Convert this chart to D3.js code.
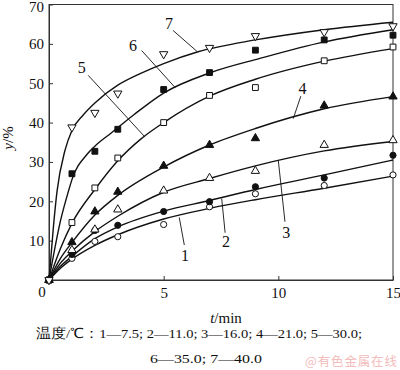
<!DOCTYPE html>
<html>
<head>
<meta charset="utf-8">
<script src="https://cdn.jsdelivr.net/npm/d3@7"></script>
<style>
  body { margin: 0; background: #fff; }
  text { font-family: "Liberation Serif", "Times New Roman", serif; }
</style>
</head>
<body>
<div id="chart"></div>
<script>
// measured points (t in min, y in %)
var times = [0, 1, 2, 3, 5, 7, 9, 12, 15];
var s1 = [0, 5.5, 9.8, 11.0, 14.1, 18.6, 21.9, 24.0, 26.7];
var s2 = [0, 6.5, 12.6, 13.9, 17.4, 19.9, 23.7, 25.9, 31.7];
var s3 = [0, 7.6, 12.8, 17.9, 22.7, 25.9, 27.7, 34.3, 35.5];
var s4 = [0, 9.6, 17.4, 22.4, 29.0, 34.3, 36.0, 44.3, 46.6];
var s5 = [0, 14.6, 23.4, 31.0, 40.0, 46.9, 48.9, 55.7, 59.2];
var s6 = [0, 27.0, 32.7, 38.3, 48.4, 52.7, 58.4, 61.0, 62.2];
var s7 = [0, 38.8, 42.5, 47.4, 57.4, 59.0, 62.0, 63.0, 64.5];

// fitted curves
var c1t = [0, 0.5, 1, 2, 3, 5, 7, 9, 12, 15];
var c1 = [0, 3.0, 5.3, 8.8, 11.5, 15.5, 18.2, 20.4, 23.3, 26.4];
var c2 = [0, 3.5, 6.0, 10.5, 13.5, 17.5, 20.2, 23.0, 26.7, 30.5];
var c3 = [0, 4.3, 7.3, 12.3, 16.2, 22.3, 25.8, 29.0, 32.8, 35.2];
var c4 = [0, 5.5, 9.5, 16.5, 21.5, 28.7, 34.3, 38.5, 43.5, 46.6];
var c5t = [0, 0.5, 1, 2, 3, 4, 5, 7, 9, 12, 15];
var c5 = [0, 8.0, 14.4, 23.0, 30.3, 35.8, 40.0, 46.7, 51.0, 55.6, 58.8];
var c6t = [0, 0.5, 0.87, 1, 1.67, 2, 2.7, 3.7, 5, 7, 9.2, 12, 15];
var c6 = [0, 15.0, 23.0, 25.5, 32.0, 34.0, 37.3, 42.0, 47.5, 52.6, 56.3, 60.5, 63.6];
var c7t = [0, 0.2, 0.35, 0.7, 1, 1.5, 2, 3, 4, 5, 6.5, 9, 12, 15];
var c7 = [0, 14.0, 22.5, 33.0, 38.0, 42.0, 45.0, 49.5, 52.5, 55.0, 58.0, 61.0, 63.6, 65.5];

var xTicks = [5, 10, 15];
var yTicks = [10, 20, 30, 40, 50, 60, 70];

// curve labels: text position and leader line ends (data units)
var curveLabels = [
  {name: "1", tx: 5.93, ty: 6.3, x1: 5.9, y1: 8.9, x2: 5.68, y2: 15.9},
  {name: "2", tx: 7.72, ty: 9.7, x1: 7.68, y1: 12.0, x2: 7.53, y2: 20.7},
  {name: "3", tx: 10.34, ty: 12.2, x1: 10.29, y1: 14.8, x2: 10.0, y2: 30.3},
  {name: "4", tx: 11.05, ty: 48.6, x1: 10.98, y1: 46.7, x2: 10.65, y2: 41.0},
  {name: "5", tx: 1.43, ty: 54.1, x1: 1.71, y1: 52.0, x2: 4.19, y2: 36.3},
  {name: "6", tx: 3.66, ty: 59.6, x1: 4.04, y1: 58.3, x2: 5.5, y2: 48.9},
  {name: "7", tx: 5.23, ty: 65.2, x1: 5.41, y1: 63.4, x2: 6.45, y2: 58.1}
];

var captionLine1 = "温度/℃：1—7.5; 2—11.0; 3—16.0; 4—21.0; 5—30.0;";
var captionLine2 = "6—35.0; 7—40.0";

var series = [
  {vals: s1, ct: c1t, cv: c1, shape: "circle", fill: false},
  {vals: s2, ct: c1t, cv: c2, shape: "circle", fill: true},
  {vals: s3, ct: c1t, cv: c3, shape: "tri", fill: false},
  {vals: s4, ct: c1t, cv: c4, shape: "tri", fill: true},
  {vals: s5, ct: c5t, cv: c5, shape: "square", fill: false},
  {vals: s6, ct: c6t, cv: c6, shape: "square", fill: true},
  {vals: s7, ct: c7t, cv: c7, shape: "trid", fill: false}
];

var width = 400, height = 370;
var svg = d3.select("#chart")
  .append("svg")
    .attr("width", width)
    .attr("height", height);

var x = d3.scaleLinear().domain([0, 15]).range([49, 393]);
var y = d3.scaleLinear().domain([0, 70]).range([280, 4.5]);

// frame
svg.append("rect")
  .attr("x", x(0)).attr("y", y(70))
  .attr("width", x(15) - x(0)).attr("height", y(0) - y(70))
  .attr("fill", "none").attr("stroke", "#333").attr("stroke-width", 1);

var xAxis = svg.append("g")
  .attr("transform", "translate(0," + y(0) + ")")
  .call(d3.axisBottom(x).tickValues(xTicks).tickSize(-4).tickPadding(7).tickSizeOuter(0));
var yAxis = svg.append("g")
  .attr("transform", "translate(" + x(0) + ",0)")
  .call(d3.axisLeft(y).tickValues(yTicks).tickSize(-4).tickPadding(5).tickSizeOuter(0));
[xAxis, yAxis].forEach(function(g) {
  g.select(".domain").attr("stroke", "#333");
  g.selectAll(".tick line").attr("stroke", "#333");
  g.selectAll("text").attr("font-size", 15).attr("fill", "#111");
});
// top label sits a bit lower so it stays inside the page
yAxis.selectAll(".tick text").filter(function(d) { return d === 70; }).attr("y", 2.5);

svg.append("text")
  .attr("x", 42).attr("y", 297)
  .attr("text-anchor", "middle").attr("font-size", 15).attr("fill", "#111")
  .text("0");

var line = d3.line()
  .x(function(d) { return x(d[0]) })
  .y(function(d) { return y(d[1]) })
  .curve(d3.curveMonotoneX);

series.forEach(function(s) {
  svg.append("path")
    .attr("d", line(s.ct.map(function(t, i) { return [t, s.cv[i]]; })))
    .attr("fill", "none").attr("stroke", "#111").attr("stroke-width", 1.4);
});

var sym = {
  circle: d3.symbol().type(d3.symbolCircle).size(30),
  square: d3.symbol().type(d3.symbolSquare).size(34),
  tri: d3.symbol().type(d3.symbolTriangle).size(30)
};

series.forEach(function(s) {
  var gen = s.shape === "trid" ? sym.tri : sym[s.shape];
  svg.append("g").selectAll("path")
    .data(times.map(function(t, i) { return [t, s.vals[i]]; }))
    .enter()
    .append("path")
      .attr("d", gen)
      .attr("transform", function(d) {
        return "translate(" + x(d[0]) + "," + y(d[1]) + ")" + (s.shape === "trid" ? " rotate(180)" : "");
      })
      .attr("fill", s.fill ? "#111" : "#fff")
      .attr("stroke", "#111").attr("stroke-width", 1);
});

// leader lines and numbers
curveLabels.forEach(function(l) {
  svg.append("line")
    .attr("x1", x(l.x1)).attr("y1", y(l.y1))
    .attr("x2", x(l.x2)).attr("y2", y(l.y2))
    .attr("stroke", "#111").attr("stroke-width", 0.9);
  svg.append("text")
    .attr("x", x(l.tx)).attr("y", y(l.ty))
    .attr("dy", "0.35em")
    .attr("text-anchor", "middle").attr("font-size", 16).attr("fill", "#111")
    .text(l.name);
});

// axis titles
var xt = svg.append("text")
  .attr("x", 226).attr("y", 323)
  .attr("text-anchor", "middle").attr("font-size", 15).attr("fill", "#111");
xt.append("tspan").attr("font-style", "italic").text("t");
xt.append("tspan").text("/min");

var yt = svg.append("text")
  .attr("transform", "translate(13,138) rotate(-90)")
  .attr("text-anchor", "middle").attr("font-size", 15).attr("fill", "#111");
yt.append("tspan").attr("font-style", "italic").text("y");
yt.append("tspan").text("/%");

// caption
svg.append("text")
  .attr("x", 36).attr("y", 338)
  .attr("font-size", 13.5).attr("fill", "#111")
  .attr("textLength", 326).attr("lengthAdjust", "spacingAndGlyphs")
  .text(captionLine1);
svg.append("text")
  .attr("x", 150).attr("y", 363)
  .attr("font-size", 13.5).attr("fill", "#111")
  .attr("textLength", 112).attr("lengthAdjust", "spacingAndGlyphs")
  .text(captionLine2);

svg.append("text")
  .attr("x", 305).attr("y", 366)
  .attr("font-size", 12.5).attr("fill", "#f3bcbc")
  .style("font-family", "'Noto Sans CJK SC', sans-serif")
  .attr("textLength", 92)
  .text("@有色金属在线");
</script>
</body>
</html>
